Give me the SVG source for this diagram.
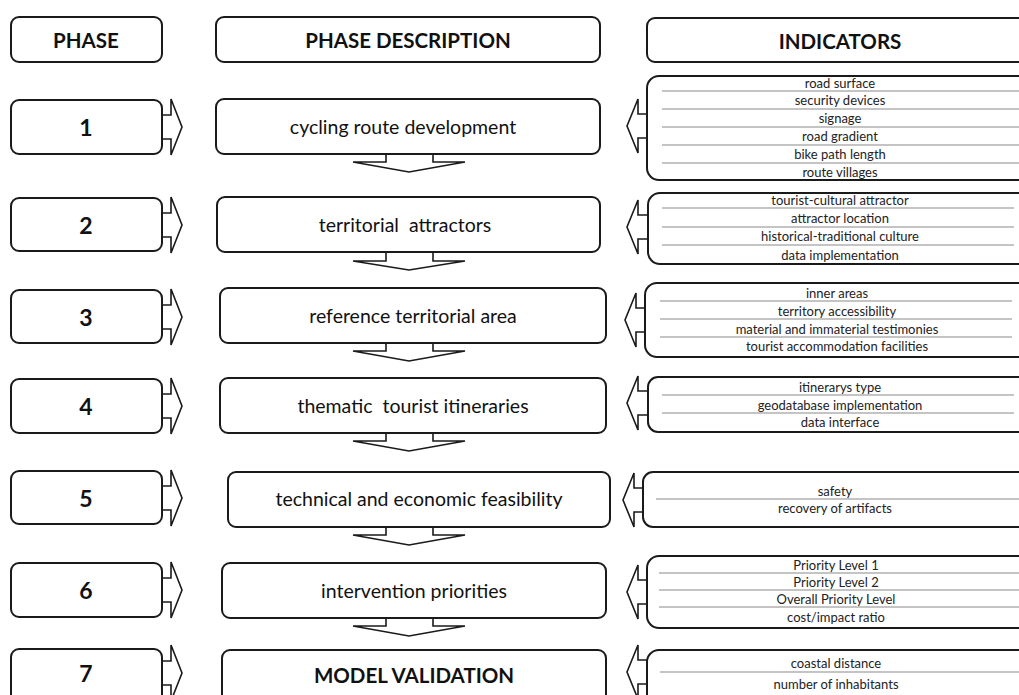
<svg xmlns="http://www.w3.org/2000/svg" width="1019" height="695" viewBox="0 0 1019 695">
<style>
.box{fill:#fff;stroke:#1a1a1a;stroke-width:2}
.arr{fill:#fff;stroke:#1a1a1a;stroke-width:1.6;stroke-linejoin:miter}
.sep{stroke:#8a8a8a;stroke-width:1.2}
.hd{font-family:Lato,"Liberation Sans",sans-serif;font-weight:bold;font-size:20.5px;fill:#111;text-anchor:middle;dominant-baseline:central}
.num{font-family:Lato,"Liberation Sans",sans-serif;font-weight:bold;font-size:23px;fill:#111;text-anchor:middle;dominant-baseline:central}
.ds{font-family:Lato,"Liberation Sans",sans-serif;font-size:19.5px;fill:#111;text-anchor:middle;dominant-baseline:central;white-space:pre}
.ind{font-family:Lato,"Liberation Sans",sans-serif;font-size:13px;fill:#222;text-anchor:middle;dominant-baseline:central}
</style>
<rect width="1019" height="695" fill="#fff"/>
<g id="headers">
<rect class="box" x="11" y="17" width="151" height="45" rx="8"/>
<text class="hd" x="86" y="40">PHASE</text>
<rect class="box" x="216" y="17" width="384" height="45" rx="8"/>
<text class="hd" x="408" y="40">PHASE DESCRIPTION</text>
<rect class="box" x="647" y="18" width="400" height="44" rx="8"/>
<text class="hd" x="840" y="41">INDICATORS</text>
</g>
<g id="connectors">
<path class="arr" d="M162,115 H171 V99 L182,127 L171,155 V139 H162"/>
<path class="arr" d="M162,213 H171 V197 L182,225 L171,253 V237 H162"/>
<path class="arr" d="M162,305 H171 V289 L182,317 L171,345 V329 H162"/>
<path class="arr" d="M162,394 H171 V378 L182,406 L171,434 V418 H162"/>
<path class="arr" d="M162,486 H171 V470 L182,498 L171,526 V510 H162"/>
<path class="arr" d="M162,578 H171 V562 L182,590 L171,618 V602 H162"/>
<path class="arr" d="M162,661 H171 V645 L182,673 L171,701 V685 H162"/>
<path class="arr" d="M648,114 H638 V99 L627,126 L638,153 V138 H648"/>
<path class="arr" d="M648,215 H638 V200 L627,227 L638,254 V239 H648"/>
<path class="arr" d="M646,308 H636 V293 L625,320 L636,347 V332 H646"/>
<path class="arr" d="M648,391 H638 V376 L627,403 L638,430 V415 H648"/>
<path class="arr" d="M644,488 H634 V473 L623,500 L634,527 V512 H644"/>
<path class="arr" d="M648,580 H638 V565 L627,592 L638,619 V604 H648"/>
<path class="arr" d="M648,660 H638 V645 L627,672 L638,699 V684 H648"/>
<path class="arr" d="M386,154 V162 H353 L409,172 L465,162 H433 V154"/>
<path class="arr" d="M386,252 V261 H353 L409,270 L465,261 H433 V252"/>
<path class="arr" d="M386,343 V351 H353 L409,361 L465,351 H433 V343"/>
<path class="arr" d="M386,433 V441 H353 L409,451 L465,441 H433 V433"/>
<path class="arr" d="M386,527 V535 H353 L409,545 L465,535 H433 V527"/>
<path class="arr" d="M386,618 V626 H353 L409,636 L465,626 H433 V618"/>
</g>
<g id="phase1"><rect class="box" x="11" y="100" width="151" height="54" rx="8"/><text class="num" x="86" y="127">1</text></g>
<g id="phase2"><rect class="box" x="11" y="198" width="151" height="53" rx="8"/><text class="num" x="86" y="225">2</text></g>
<g id="phase3"><rect class="box" x="11" y="290" width="151" height="53" rx="8"/><text class="num" x="86" y="317">3</text></g>
<g id="phase4"><rect class="box" x="11" y="379" width="151" height="54" rx="8"/><text class="num" x="86" y="406">4</text></g>
<g id="phase5"><rect class="box" x="11" y="471" width="151" height="53" rx="8"/><text class="num" x="86" y="498">5</text></g>
<g id="phase6"><rect class="box" x="11" y="563" width="151" height="54" rx="8"/><text class="num" x="86" y="590">6</text></g>
<g id="phase7"><rect class="box" x="11" y="649" width="151" height="60" rx="8"/><text class="num" x="86" y="673">7</text></g>
<g id="desc1"><rect class="box" x="216" y="99" width="384" height="55" rx="8"/><text class="ds" x="403" y="126">cycling route development</text></g>
<g id="desc2"><rect class="box" x="217" y="197" width="383" height="55" rx="8"/><text class="ds" x="405" y="224" xml:space="preserve">territorial  attractors</text></g>
<g id="desc3"><rect class="box" x="220" y="288" width="386" height="55" rx="8"/><text class="ds" x="413" y="315">reference territorial area</text></g>
<g id="desc4"><rect class="box" x="220" y="378" width="386" height="55" rx="8"/><text class="ds" x="413" y="405" xml:space="preserve">thematic  tourist itineraries</text></g>
<g id="desc5"><rect class="box" x="228" y="472" width="382" height="55" rx="8"/><text class="ds" x="419" y="498">technical and economic feasibility</text></g>
<g id="desc6"><rect class="box" x="222" y="563" width="384" height="55" rx="8"/><text class="ds" x="414" y="590">intervention priorities</text></g>
<g id="desc7"><rect class="box" x="222" y="650" width="384" height="60" rx="8"/><text class="hd" x="414" y="675">MODEL VALIDATION</text></g>
<g id="ind1">
<rect class="box" x="647" y="76" width="400" height="104" rx="12"/>
<line class="sep" x1="662" y1="91" x2="1019" y2="91"/><line class="sep" x1="662" y1="109" x2="1019" y2="109"/><line class="sep" x1="662" y1="127" x2="1019" y2="127"/><line class="sep" x1="662" y1="145" x2="1019" y2="145"/><line class="sep" x1="662" y1="163" x2="1019" y2="163"/>
<text class="ind" x="840" y="83">road surface</text><text class="ind" x="840" y="100">security devices</text><text class="ind" x="840" y="118">signage</text><text class="ind" x="840" y="136">road gradient</text><text class="ind" x="840" y="154">bike path length</text><text class="ind" x="840" y="172">route villages</text>
</g>
<g id="ind2">
<rect class="box" x="648" y="193" width="400" height="71" rx="12"/>
<line class="sep" x1="662" y1="208" x2="1014" y2="208"/><line class="sep" x1="662" y1="227" x2="1014" y2="227"/><line class="sep" x1="662" y1="245" x2="1014" y2="245"/>
<text class="ind" x="840" y="200">tourist-cultural attractor</text><text class="ind" x="840" y="218">attractor location</text><text class="ind" x="840" y="236">historical-traditional culture</text><text class="ind" x="840" y="255">data implementation</text>
</g>
<g id="ind3">
<rect class="box" x="645" y="283" width="400" height="74" rx="12"/>
<line class="sep" x1="660" y1="301" x2="1012" y2="301"/><line class="sep" x1="660" y1="319" x2="1012" y2="319"/><line class="sep" x1="660" y1="337" x2="1012" y2="337"/>
<text class="ind" x="837" y="293">inner areas</text><text class="ind" x="837" y="311">territory accessibility</text><text class="ind" x="837" y="329">material and immaterial testimonies</text><text class="ind" x="837" y="346">tourist accommodation facilities</text>
</g>
<g id="ind4">
<rect class="box" x="648" y="377" width="400" height="55" rx="10"/>
<line class="sep" x1="662" y1="395" x2="1014" y2="395"/><line class="sep" x1="662" y1="413" x2="1014" y2="413"/>
<text class="ind" x="840" y="387">itinerarys type</text><text class="ind" x="840" y="405">geodatabase implementation</text><text class="ind" x="840" y="422">data interface</text>
</g>
<g id="ind5">
<rect class="box" x="643" y="472" width="400" height="55" rx="10"/>
<line class="sep" x1="656" y1="499" x2="1019" y2="499"/>
<text class="ind" x="835" y="491">safety</text><text class="ind" x="835" y="508">recovery of artifacts</text>
</g>
<g id="ind6">
<rect class="box" x="647" y="556" width="400" height="72" rx="12"/>
<line class="sep" x1="659" y1="573" x2="1019" y2="573"/><line class="sep" x1="659" y1="590" x2="1019" y2="590"/><line class="sep" x1="659" y1="607" x2="1019" y2="607"/>
<text class="ind" x="836" y="565">Priority Level 1</text><text class="ind" x="836" y="582">Priority Level 2</text><text class="ind" x="836" y="599">Overall Priority Level</text><text class="ind" x="836" y="617">cost/impact ratio</text>
</g>
<g id="ind7">
<rect class="box" x="647" y="650" width="400" height="60" rx="12"/>
<line class="sep" x1="660" y1="672" x2="1019" y2="672"/>
<text class="ind" x="836" y="663">coastal distance</text><text class="ind" x="836" y="684">number of inhabitants</text>
</g>
</svg>
